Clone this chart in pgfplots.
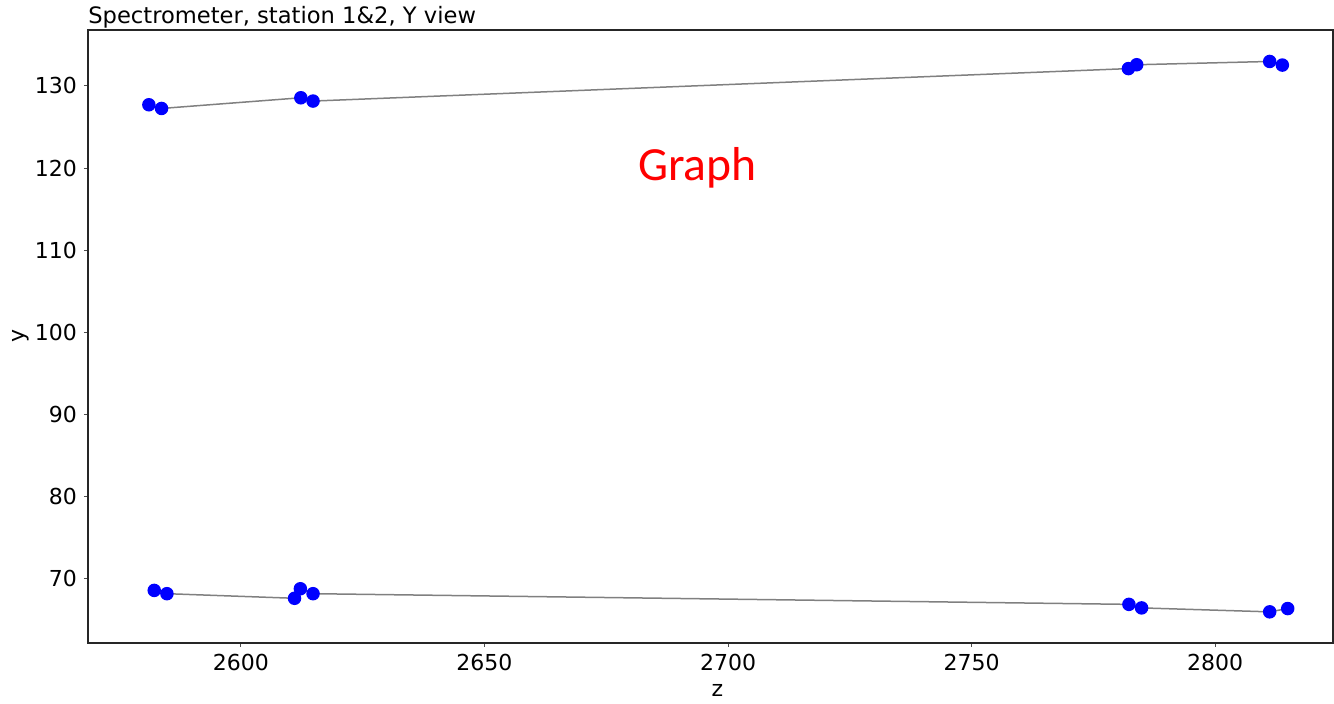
\documentclass[border=0pt]{standalone}
\usepackage{fontspec}
\setmainfont{DejaVu Sans}
\newfontfamily\graphfont{Carlito}
\usepackage{pgfplots}
\pgfplotsset{compat=1.18}
\begin{document}
\begin{tikzpicture}
\begin{axis}[
  scale only axis,
  width=622.5pt, height=306.5pt,
  xmin=2568.6, xmax=2824.2,
  ymin=62.2, ymax=136.8,
  xtick={2600,2650,2700,2750,2800},
  ytick={70,80,90,100,110,120,130},
  tick align=outside,
  xtick pos=bottom, ytick pos=left,
  major tick length=2pt,
  axis line style={line width=0.6pt, black!85},
  tick style={line width=0.5pt, black!70},
  /pgf/number format/assume math mode=true,
  /pgf/number format/1000 sep={},
  ticklabel style={font=\fontsize{11}{13}\selectfont},
  xlabel={z}, ylabel={y},
  label style={font=\fontsize{11}{13}\selectfont},
  xlabel style={yshift=0pt, xshift=3.5pt},
  ylabel style={yshift=-4pt},
  every axis title shift=0pt,
  title={Spectrometer, station 1\&2, Y view},
  title style={at={(rel axis cs:0,1)}, anchor=base west, inner sep=0pt, yshift=3pt, font=\fontsize{11.3}{13}\selectfont},
  clip=false,
]
\addplot[gray, line width=0.75pt, mark=*, mark size=3pt,
  mark options={draw=blue, fill=blue}] coordinates {
  (2581.1,127.70) (2583.7,127.25) (2612.3,128.55) (2614.8,128.15)
  (2782.2,132.10) (2783.9,132.57) (2811.2,132.97) (2813.8,132.53)
};
\addplot[gray, line width=0.75pt, mark=*, mark size=3pt,
  mark options={draw=blue, fill=blue}] coordinates {
  (2582.2,68.60) (2584.8,68.20) (2611.0,67.64) (2612.2,68.80) (2614.8,68.20)
  (2782.3,66.90) (2784.9,66.47) (2811.2,65.99) (2814.9,66.39)
};
\node[text=red, font=\graphfont\fontsize{23.8}{26}\selectfont] at (axis cs:2693.7,120.0) {Graph};
\path (rel axis cs:0,0) ++(-44pt,-29pt) coordinate (bl);
\path (rel axis cs:1,1) ++(0.5pt,15pt) coordinate (tr);
\path[use as bounding box] (bl) rectangle (tr);
\end{axis}
\end{tikzpicture}
\end{document}
